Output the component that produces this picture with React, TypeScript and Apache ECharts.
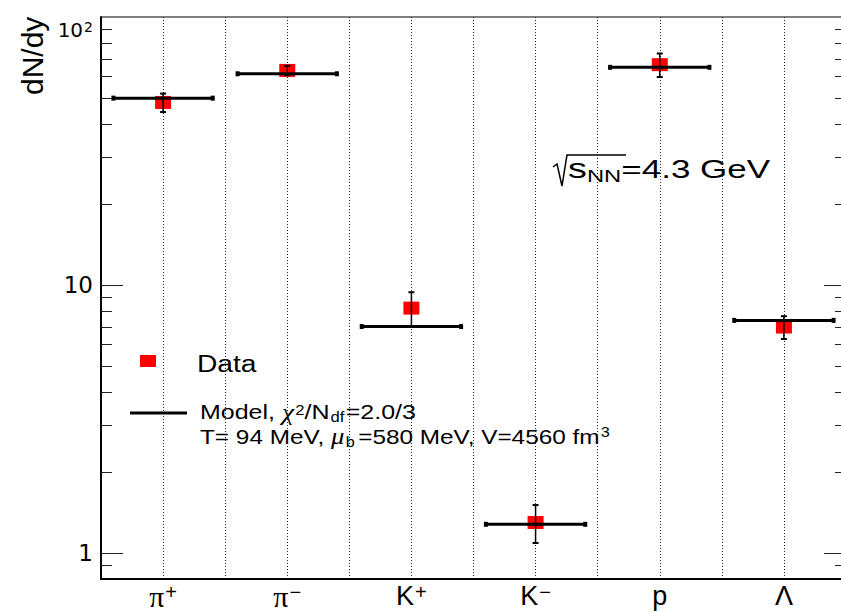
import { useEffect, useRef } from 'react';
import * as echarts from 'echarts';

// Particle species on the x axis (symbol + charge superscript)
const particleSymbols = ['π', 'π', 'K', 'K', 'p', 'Λ'];
const particleCharges = ['+', '−', '+', '−', '', ''];

// Measured mid-rapidity yields and their uncertainties
const measuredYield = [48.0, 63.2, 8.2, 1.3, 66.4, 6.97];
const measuredError = [3.8, 2.5, 1.2, 0.21, 6.7, 0.68];

// Statistical-model fit
const modelYield = [49.8, 61.4, 7.0, 1.28, 64.9, 7.38];

// Tick marks of the logarithmic y axis
const yMajorTicks = [1, 10];
const yMinorTicks = [0.9, 2, 3, 4, 5, 6, 7, 8, 9, 20, 30, 40, 50, 60, 70, 80, 90];

const SANS = '"Liberation Sans", Arial, Helvetica, sans-serif';
const WIDE_SANS = '"DejaVu Sans", "Liberation Sans", sans-serif';
const SERIF = '"Liberation Serif", "Times New Roman", serif';

export default function App() {
  const ref = useRef<HTMLDivElement>(null);

  useEffect(() => {
    const chart = echarts.init(ref.current!, null, { renderer: 'svg' });
    const centers = particleSymbols.map((_, i) => i + 0.5);
    const tickData = [
      ...yMajorTicks.map((v) => [0, v, 22]),
      ...yMinorTicks.map((v) => [0, v, 11]),
    ];
    const crisp = (v: number) => Math.round(v) + 0.5;

    chart.setOption({
      animation: false,
      backgroundColor: '#ffffff',
      grid: {
        left: 101,
        top: 17,
        width: 745,
        height: 562,
        show: true,
        borderColor: '#000',
        borderWidth: 1,
        backgroundColor: 'transparent',
        containLabel: false,
        outerBoundsMode: 'none',
      },
      xAxis: {
        type: 'value',
        min: 0,
        max: 6,
        interval: 0.5,
        axisLine: { show: true, onZero: false, lineStyle: { color: '#000', width: 2 } },
        axisTick: { show: false },
        splitLine: { show: true, lineStyle: { color: '#222', width: 1, type: [1, 2] } },
        axisLabel: {
          margin: 3,
          color: '#000',
          formatter: (v: number) => {
            const i = Math.floor(v);
            if (Math.abs(v - i - 0.5) > 1e-6 || i < 0 || i >= particleSymbols.length) return '';
            const sym = particleSymbols[i];
            const base = sym === 'π' ? `{g|${sym}}` : `{b|${sym}}`;
            return particleCharges[i] ? `${base}{s|${particleCharges[i]}}` : base;
          },
          rich: {
            b: { fontSize: 27, fontFamily: SANS, lineHeight: 28, color: '#000' },
            g: { fontSize: 30, fontFamily: SERIF, lineHeight: 28, color: '#000' },
            s: { fontSize: 20, fontFamily: SANS, lineHeight: 18, verticalAlign: 'top', color: '#000', padding: [0, 0, 0, 1] },
          },
        },
      },
      yAxis: {
        type: 'log',
        logBase: 10,
        min: 0.8,
        max: 100,
        name: 'dN/dy',
        nameLocation: 'end',
        nameRotate: 90,
        nameGap: -78,
        nameMoveOverlap: false,
        nameTextStyle: {
          fontSize: 30,
          fontFamily: SANS,
          color: '#000',
          align: 'left',
          verticalAlign: 'bottom',
          padding: [0, 0, 54, 0],
        },
        axisLine: { show: true, lineStyle: { color: '#000', width: 2 } },
        axisTick: { show: false },
        splitLine: { show: false },
        axisLabel: {
          margin: 8,
          color: '#000',
          fontSize: 23,
          fontFamily: WIDE_SANS,
          showMinLabel: false,
          formatter: (v: number) => {
            const e = Math.round(Math.log10(v));
            if (Math.abs(Math.log10(v) - e) > 1e-6) return '';
            if (e === 0) return '1';
            if (e === 1) return '10';
            if (e === 2) return '{z| }\n{e|10}{p|2}';
            return '';
          },
          rich: {
            z: { fontSize: 10, lineHeight: 26 },
            e: { fontSize: 20, fontFamily: WIDE_SANS, lineHeight: 20, verticalAlign: 'bottom', color: '#000' },
            p: { fontSize: 14, fontFamily: WIDE_SANS, lineHeight: 14, verticalAlign: 'top', padding: [0, 0, 12, 1], color: '#000' },
          },
        },
      },
      series: [
        {
          type: 'custom',
          name: 'axis ticks',
          silent: true,
          z: 1,
          data: tickData,
          renderItem: (params: any, api: any) => {
            const cs = params.coordSys;
            const y = crisp(api.coord([0, api.value(1)])[1]);
            const len = api.value(2);
            const st = { stroke: '#222', lineWidth: 1 };
            return {
              type: 'group',
              children: [
                { type: 'line', shape: { x1: cs.x, y1: y, x2: cs.x + len, y2: y }, style: st },
                { type: 'line', shape: { x1: cs.x + cs.width - len, y1: y, x2: cs.x + cs.width, y2: y }, style: st },
              ],
            };
          },
        },
        {
          type: 'scatter',
          name: 'Data',
          z: 2,
          symbol: 'rect',
          symbolSize: [16, 13],
          itemStyle: { color: '#ff0000', opacity: 1 },
          data: centers.map((x, i) => [x, measuredYield[i]]),
        },
        {
          type: 'custom',
          name: 'Data errors',
          z: 3,
          data: centers.map((x, i) => [x, measuredYield[i] - measuredError[i], measuredYield[i] + measuredError[i]]),
          renderItem: (params: any, api: any) => {
            const [x, yHi] = api.coord([api.value(0), api.value(2)]);
            const yLo = api.coord([api.value(0), api.value(1)])[1];
            const cap = 3;
            return {
              type: 'group',
              children: [
                { type: 'line', shape: { x1: x, y1: yHi, x2: x, y2: yLo }, style: { stroke: '#000', lineWidth: 1.5 } },
                { type: 'line', shape: { x1: x - cap, y1: yHi, x2: x + cap, y2: yHi }, style: { stroke: '#000', lineWidth: 2 } },
                { type: 'line', shape: { x1: x - cap, y1: yLo, x2: x + cap, y2: yLo }, style: { stroke: '#000', lineWidth: 2 } },
              ],
            };
          },
        },
        {
          type: 'custom',
          name: 'Model',
          z: 3,
          data: centers.map((x, i) => [x, modelYield[i]]),
          renderItem: (params: any, api: any) => {
            const [xl, y] = api.coord([api.value(0) - 0.4, api.value(1)]);
            const xr = api.coord([api.value(0) + 0.4, api.value(1)])[0];
            return {
              type: 'group',
              children: [
                { type: 'line', shape: { x1: xl, y1: y, x2: xr, y2: y }, style: { stroke: '#000', lineWidth: 3 } },
                { type: 'rect', shape: { x: xl - 2, y: y - 2.5, width: 4, height: 5 }, style: { fill: '#000' } },
                { type: 'rect', shape: { x: xr - 2, y: y - 2.5, width: 4, height: 5 }, style: { fill: '#000' } },
              ],
            };
          },
        },
      ],
      graphic: [
        // legend
        { type: 'rect', shape: { x: 140, y: 355, width: 16, height: 12 }, style: { fill: '#ff0000' } },
        {
          type: 'text',
          x: 197,
          y: 364,
          scaleX: 1.15,
          style: { text: 'Data', fontSize: 24.5, fontFamily: SANS, fill: '#000', align: 'left', verticalAlign: 'middle' },
        },
        { type: 'line', shape: { x1: 130, y1: 413, x2: 187, y2: 413 }, style: { stroke: '#000', lineWidth: 3 } },
        {
          type: 'text',
          x: 200,
          y: 411.5,
          scaleX: 1.19,
          style: {
            text: 'Model, {g|χ}{sup|2}/N{sub|df}=2.0/3',
            fontSize: 21,
            fontFamily: SANS,
            lineHeight: 24,
            fill: '#000',
            align: 'left',
            verticalAlign: 'middle',
            rich: {
              g: { fontSize: 23, fontFamily: SERIF, fontStyle: 'italic', lineHeight: 24 },
              sup: { fontSize: 14, fontFamily: SANS, lineHeight: 14, verticalAlign: 'top', padding: [3, 0, 0, 1] },
              sub: { fontSize: 14, fontFamily: SANS, lineHeight: 14, verticalAlign: 'bottom', padding: [0, 1, 0, 1] },
            },
          },
        },
        {
          type: 'text',
          x: 200,
          y: 436.5,
          scaleX: 1.16,
          style: {
            text: 'T= 94 MeV, {g|μ}{sub|b}=580 MeV, V=4560 fm{sup|3}',
            fontSize: 21,
            fontFamily: SANS,
            lineHeight: 24,
            fill: '#000',
            align: 'left',
            verticalAlign: 'middle',
            rich: {
              g: { fontSize: 23, fontFamily: SERIF, fontStyle: 'italic', lineHeight: 24 },
              sup: { fontSize: 14, fontFamily: SANS, lineHeight: 14, verticalAlign: 'top', padding: [0, 0, 0, 1] },
              sub: { fontSize: 14, fontFamily: SANS, lineHeight: 14, verticalAlign: 'bottom', padding: [0, 3, 0, 1] },
            },
          },
        },
        // collision energy
        {
          type: 'polyline',
          shape: { points: [[553, 167], [557, 164], [562, 186], [567, 155], [626, 155]] },
          style: { stroke: '#000', lineWidth: 1.5, fill: 'none' },
        },
        {
          type: 'text',
          x: 568,
          y: 169,
          scaleX: 1.4,
          style: {
            text: '{s|s}{sub|NN}=4.3 GeV',
            fontSize: 25,
            fontFamily: SANS,
            lineHeight: 30,
            fill: '#000',
            align: 'left',
            verticalAlign: 'middle',
            rich: {
              s: { fontSize: 27, fontFamily: SANS, lineHeight: 30 },
              sub: { fontSize: 17, fontFamily: SANS, lineHeight: 17, verticalAlign: 'bottom' },
            },
          },
        },
      ],
    });

    return () => chart.dispose();
  }, []);

  return (
    <div
      ref={ref}
      style={{ position: 'absolute', left: 0, top: 0, width: 841, height: 612, background: '#fff' }}
    />
  );
}
